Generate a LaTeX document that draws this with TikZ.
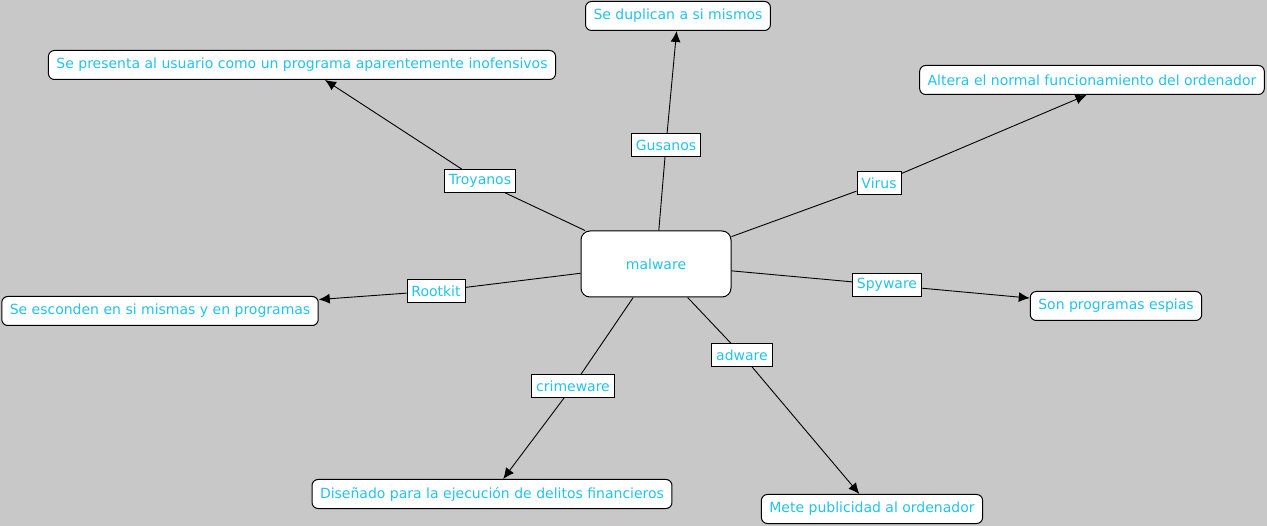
\documentclass[tikz,border=0pt]{standalone}
\usepackage{fontspec}
\setmainfont{DejaVu Sans}
\usetikzlibrary{arrows.meta}
\definecolor{bggray}{RGB}{200,200,200}
\definecolor{cmapblue}{RGB}{35,195,235}

\begin{document}
\begin{tikzpicture}[x=1pt, y=-1pt,
  every node/.style={font=\fontsize{14}{16}\selectfont, text=cmapblue},
  concept/.style={draw, fill=white, rounded corners=6pt, inner xsep=8pt, minimum height=29pt, line width=1pt},
  linkword/.style={draw, fill=white, inner xsep=4.5pt, minimum height=23pt, line width=0.8pt},
  link/.style={line width=0.9pt},
  arrow/.style={line width=0.9pt, -{Latex[length=11pt,width=10pt]}}]
% background and page size
\fill[bggray] (0,0) rectangle (1267,526);
\useasboundingbox (0,0) rectangle (1267,526);

% main concept
\node[concept, minimum width=150pt, minimum height=66pt, rounded corners=9pt] (malware) at (656,264) {malware};

% linking words
\node[linkword] (gusanos) at (666,145) {Gusanos};
\node[linkword] (troyanos) at (480,181) {Troyanos};
\node[linkword] (virus) at (879,183) {Virus};
\node[linkword] (spyware) at (887,285) {Spyware};
\node[linkword] (rootkit) at (436,291) {Rootkit};
\node[linkword] (crimeware) at (573,386) {crimeware};
\node[linkword] (adware) at (742,355) {adware};

% descriptions
\node[concept] (duplican) at (678,16) {Se duplican a si mismos};
\node[concept] (presenta) at (302,65) {Se presenta al usuario como un programa aparentemente inofensivos};
\node[concept] (altera) at (1092,80) {Altera el normal funcionamiento del ordenador};
\node[concept] (espias) at (1116,306) {Son programas espias};
\node[concept] (esconden) at (160,311) {Se esconden en si mismas y en programas};
\node[concept] (disenado) at (492,494) {Diseñado para la ejecución de delitos financieros};
\node[concept] (publicidad) at (872,509) {Mete publicidad al ordenador};

% connectors
\foreach \w in {gusanos,troyanos,virus,spyware,rootkit,crimeware,adware}
  \draw[link] (malware) -- (\w);
\draw[arrow] (gusanos) -- (duplican);
\draw[arrow] (troyanos) -- (presenta);
\draw[arrow] (virus) -- (altera.250);
\draw[arrow] (spyware) -- (espias);
\draw[arrow] (rootkit) -- (esconden);
\draw[arrow] (crimeware) -- (disenado);
\draw[arrow] (adware) -- (publicidad);
\end{tikzpicture}
\end{document}
